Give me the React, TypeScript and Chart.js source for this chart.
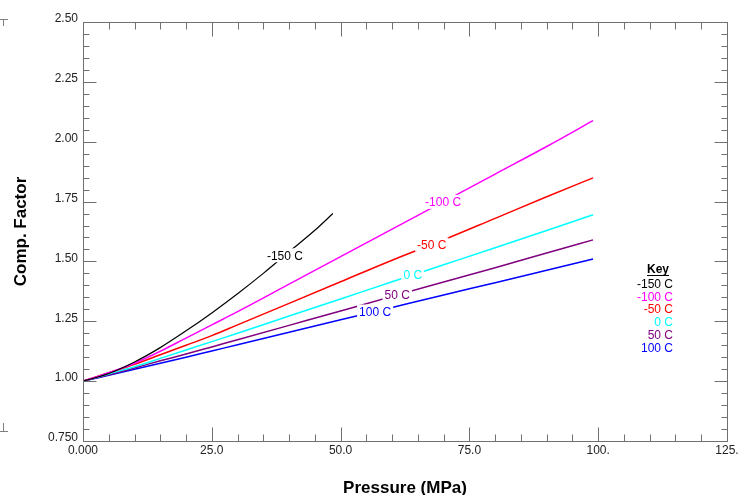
import React, { useEffect, useRef } from "react";
import { Chart, registerables } from "chart.js";

Chart.register(...registerables);

// ---- Data ----
const SERIES_NAMES = ["-150 C", "-100 C", "-50 C", "0 C", "50 C", "100 C"];
const SERIES_COLORS = ["#000000", "#ff00ff", "#ff0000", "#00ffff", "#800080", "#0000ff"];

const P_M150 = [0, 5, 10, 15, 20, 25, 30, 35, 40, 45, 48.5];
const Z_M150 = [1.0, 1.032, 1.08, 1.14, 1.21, 1.285, 1.365, 1.45, 1.54, 1.63, 1.70];

const P_STD = [0, 5, 10, 15, 20, 25, 30, 40, 50, 60, 70, 80, 90, 99];
const Z_M100 = [1.0, 1.035, 1.075, 1.125, 1.18, 1.235, 1.29, 1.405, 1.52, 1.635, 1.75, 1.865, 1.98, 2.088];
const Z_M50 = [1.0, 1.035, 1.07, 1.11, 1.15, 1.19, 1.235, 1.325, 1.415, 1.505, 1.59, 1.68, 1.77, 1.849];
const Z_0 = [1.0, 1.03, 1.06, 1.095, 1.13, 1.165, 1.2, 1.272, 1.343, 1.415, 1.486, 1.557, 1.629, 1.695];
const Z_50 = [1.0, 1.027, 1.055, 1.085, 1.113, 1.143, 1.173, 1.233, 1.293, 1.354, 1.414, 1.474, 1.535, 1.59];
const Z_100 = [1.0, 1.025, 1.05, 1.075, 1.1, 1.126, 1.152, 1.204, 1.256, 1.308, 1.36, 1.411, 1.463, 1.51];

// pressure at which each inline curve label sits
const LABEL_AT_P = [39.2, 69.9, 67.7, 64, 61, 56.7];

const X_TICK_LABELS = ["0.000", "25.0", "50.0", "75.0", "100.", "125."];
const Y_TICK_LABELS = ["0.750", "1.00", "1.25", "1.50", "1.75", "2.00", "2.25", "2.50"];

const X_TITLE = "Pressure (MPa)";
const Y_TITLE = "Comp. Factor";
const KEY_TITLE = "Key";

const SERIES_P = [P_M150, P_STD, P_STD, P_STD, P_STD, P_STD];
const SERIES_Z = [Z_M150, Z_M100, Z_M50, Z_0, Z_50, Z_100];

const FONT = "'Liberation Sans', Arial, sans-serif";

function interp(px: number[], zs: number[], p: number): number {
  for (let i = 0; i < px.length - 1; i++) {
    if (p >= px[i] && p <= px[i + 1]) {
      const t = (p - px[i]) / (px[i + 1] - px[i]);
      return zs[i] + t * (zs[i + 1] - zs[i]);
    }
  }
  return zs[zs.length - 1];
}

const decorPlugin = {
  id: "decor",
  afterDatasetsDraw(chart: any) {
    const ctx = chart.ctx;
    const xs = chart.scales.x;
    const ys = chart.scales.y;
    // inline labels
    ctx.save();
    ctx.font = `12px ${FONT}`;
    ctx.textAlign = "center";
    ctx.textBaseline = "middle";
    SERIES_NAMES.forEach((name, i) => {
      const p = LABEL_AT_P[i];
      const z = interp(SERIES_P[i], SERIES_Z[i], p);
      const x = xs.getPixelForValue(p);
      const y = ys.getPixelForValue(z);
      const w = ctx.measureText(name).width;
      ctx.fillStyle = "#ffffff";
      ctx.fillRect(x - w / 2 - 2, y - 7, w + 4, 14);
      ctx.fillStyle = SERIES_COLORS[i];
      ctx.fillText(name, x, y + 1);
    });
    ctx.restore();
  },
  afterDraw(chart: any) {
    const ctx = chart.ctx;
    const xs = chart.scales.x;
    const ys = chart.scales.y;
    const a = chart.chartArea;
    ctx.save();
    ctx.strokeStyle = "#707070";
    ctx.lineWidth = 1;
    const L = Math.round(a.left) + 0.5;
    const R = Math.round(a.right) + 0.5;
    const T = Math.round(a.top) + 0.5;
    const B = Math.round(a.bottom) + 0.5;
    ctx.strokeRect(L, T, R - L, B - T);
    ctx.beginPath();
    // x ticks every 5, major every 25
    for (let k = 0; k <= 25; k++) {
      const v = k * 5;
      const px = Math.round(xs.getPixelForValue(v)) + 0.5;
      const len = k % 5 === 0 ? 14 : 7;
      ctx.moveTo(px, B);
      ctx.lineTo(px, B - len);
      ctx.moveTo(px, T);
      ctx.lineTo(px, T + len);
    }
    // y ticks every 0.05, major every 0.25
    for (let k = 0; k <= 35; k++) {
      const v = 0.75 + k * 0.05;
      const py = Math.round(ys.getPixelForValue(v)) + 0.5;
      const len = k % 5 === 0 ? 13 : 6;
      ctx.moveTo(L, py);
      ctx.lineTo(L + len, py);
      ctx.moveTo(R, py);
      ctx.lineTo(R - len, py);
    }
    ctx.stroke();

    // corner marks
    ctx.strokeStyle = "#808080";
    ctx.beginPath();
    ctx.moveTo(0, 19.5);
    ctx.lineTo(8, 19.5);
    ctx.moveTo(3.5, 19.5);
    ctx.lineTo(3.5, 26);
    ctx.moveTo(0, 431.5);
    ctx.lineTo(8, 431.5);
    ctx.moveTo(3.5, 431.5);
    ctx.lineTo(3.5, 423);
    ctx.stroke();

    // key
    ctx.font = `bold 12px ${FONT}`;
    ctx.textAlign = "center";
    ctx.textBaseline = "middle";
    ctx.fillStyle = "#000000";
    ctx.fillText(KEY_TITLE, 658, 270);
    const kw = ctx.measureText(KEY_TITLE).width;
    ctx.fillRect(658 - kw / 2, 275, kw, 1);
    ctx.font = `12px ${FONT}`;
    ctx.textAlign = "right";
    SERIES_NAMES.forEach((name, i) => {
      ctx.fillStyle = SERIES_COLORS[i];
      ctx.fillText(name, 673, 284.5 + i * 12.8);
    });
    ctx.restore();
  },
};

export default function App() {
  const ref = useRef<HTMLCanvasElement | null>(null);
  useEffect(() => {
    if (!ref.current) return;
    const datasets = SERIES_NAMES.map((name, i) => ({
      label: name,
      data: SERIES_P[i].map((p, j) => ({ x: p, y: SERIES_Z[i][j] })),
      borderColor: SERIES_COLORS[i],
      backgroundColor: SERIES_COLORS[i],
      borderWidth: i === 0 ? 1.2 : 1.5,
      pointRadius: 0,
      fill: false,
      cubicInterpolationMode: "monotone" as const,
    }));
    const chart = new Chart(ref.current, {
      type: "line",
      data: { datasets },
      plugins: [decorPlugin],
      options: {
        animation: false,
        responsive: false,
        devicePixelRatio: 1,
        layout: { padding: { top: 22, right: 24, left: 0, bottom: 0 } },
        plugins: { legend: { display: false }, tooltip: { enabled: false } },
        scales: {
          x: {
            type: "linear",
            min: 0,
            max: 125,
            grid: { display: false, drawTicks: false },
            border: { display: false },
            ticks: {
              stepSize: 25,
              autoSkip: false,
              maxRotation: 0,
              padding: 2,
              color: "#222222",
              font: { family: FONT, size: 12 },
              callback: (_v: any, idx: number) => X_TICK_LABELS[idx],
            },
            title: {
              display: true,
              text: X_TITLE,
              color: "#000000",
              font: { family: FONT, size: 17, weight: "bold", lineHeight: 1 },
              padding: { top: 0, bottom: -2 },
            },
            afterFit: (s: any) => {
              s.height = 54;
            },
          },
          y: {
            type: "linear",
            min: 0.75,
            max: 2.5,
            grid: { display: false, drawTicks: false },
            border: { display: false },
            ticks: {
              stepSize: 0.25,
              autoSkip: false,
              padding: 5,
              labelOffset: -3,
              color: "#222222",
              font: { family: FONT, size: 12 },
              callback: (_v: any, idx: number) => Y_TICK_LABELS[idx],
            },
            title: {
              display: true,
              text: Y_TITLE,
              color: "#000000",
              font: { family: FONT, size: 17, weight: "bold", lineHeight: 1 },
              padding: { top: 13, bottom: 0 },
            },
            afterFit: (s: any) => {
              s.width = 83;
            },
          },
        },
      } as any,
    });
    return () => chart.destroy();
  }, []);
  return (
    <div style={{ position: "fixed", left: 0, top: 0, width: 751, height: 495, background: "#ffffff" }}>
      <canvas ref={ref} width={751} height={495} style={{ display: "block" }} />
    </div>
  );
}
